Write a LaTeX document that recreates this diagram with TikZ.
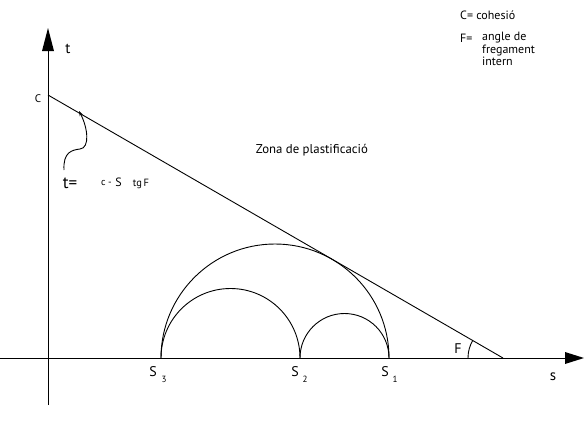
\documentclass[tikz,border=0pt]{standalone}
\usepackage{fontspec}
\setmainfont{PT Sans}
\usetikzlibrary{arrows.meta}
\begin{document}
\begin{tikzpicture}[x=1pt,y=-1pt,
  lbl/.style={inner sep=0pt,anchor=center},
  ln/.style={line width=0.9pt,black}]
\useasboundingbox (0,0) rectangle (584,432);
% axes
\coordinate (ybot) at (48,405);
\coordinate (ytop) at (48,50);
\coordinate (xl) at (0,358);
\coordinate (xr) at (566,358);
\draw[ln] (ybot) -- (ytop);
\fill (48,28) -- (42,51) -- (54,51) -- cycle;
\draw[ln] (xl) -- (xr);
\fill (584,358) -- (565,352) -- (565,364) -- cycle;
% failure line
\coordinate (C) at (48,95);
\coordinate (E) at (503,358);
\draw[ln] (C) -- (E);
% Mohr circles
\coordinate (s3) at (161,358);
\coordinate (s2) at (300,358);
\coordinate (s1) at (389,358);
\draw[ln] (s1) arc[start angle=0,end angle=-180,radius=114];
\draw[ln] (s2) arc[start angle=0,end angle=-180,radius=69.5];
\draw[ln] (s1) arc[start angle=0,end angle=-180,radius=44.5];
% angle arc
\draw[ln] (468,358) arc[start angle=180,end angle=209.98,radius=35];
% wavy arrow
\coordinate (wa) at (64,170);
\coordinate (wb) at (79,111);
\draw[ln,-{Stealth[length=5pt,width=3.5pt]}] (wa) .. controls (63,152) and (72,150) .. (80,149) .. controls (90,148) and (88,128) .. (wb);
% labels
\node[lbl,font=\fontsize{15}{15}\selectfont] (tl) at (68,49) {t};
\node[lbl,font=\fontsize{11}{11}\selectfont] (cl) at (38,99) {C};
\node[lbl,font=\fontsize{15}{15}\selectfont] (sl) at (553,377) {s};
\node[lbl,font=\fontsize{14}{14}\selectfont] (s3l) at (153,372) {S};
\node[lbl,font=\fontsize{9}{9}\selectfont] (s3i) at (164,379) {3};
\node[lbl,font=\fontsize{14}{14}\selectfont] (s2l) at (295,372) {S};
\node[lbl,font=\fontsize{9}{9}\selectfont] (s2i) at (305,379) {2};
\node[lbl,font=\fontsize{14}{14}\selectfont] (s1l) at (385,372) {S};
\node[lbl,font=\fontsize{9}{9}\selectfont] (s1i) at (395,379) {1};
\node[lbl,font=\fontsize{14}{14}\selectfont] (Fl) at (458,349) {F};
\node[lbl,font=\fontsize{12.8}{12.8}\selectfont] (zona) at (312,150) {Zona de plastificació};
\node[lbl,font=\fontsize{17}{17}\selectfont] (teq) at (70,183) {t=};
\node[lbl,font=\fontsize{10}{10}\selectfont,anchor=east] (cm) at (112,183) {c -};
\node[lbl,font=\fontsize{12}{12}\selectfont] (ss) at (118.5,182) {S};
\node[lbl,font=\fontsize{10.5}{10.5}\selectfont] (tg) at (141,184) {tg\,F};
% legend
\node[lbl,font=\fontsize{12}{12}\selectfont,anchor=west] (leg1) at (460,15) {C= cohesió};
\node[lbl,font=\fontsize{12}{12}\selectfont,anchor=west] (leg2) at (460,38) {F=};
\node[lbl,font=\fontsize{12}{12.5}\selectfont,anchor=north west,align=left] (leg3) at (482,32) {angle de\\fregament\\intern};
\end{tikzpicture}
\end{document}
